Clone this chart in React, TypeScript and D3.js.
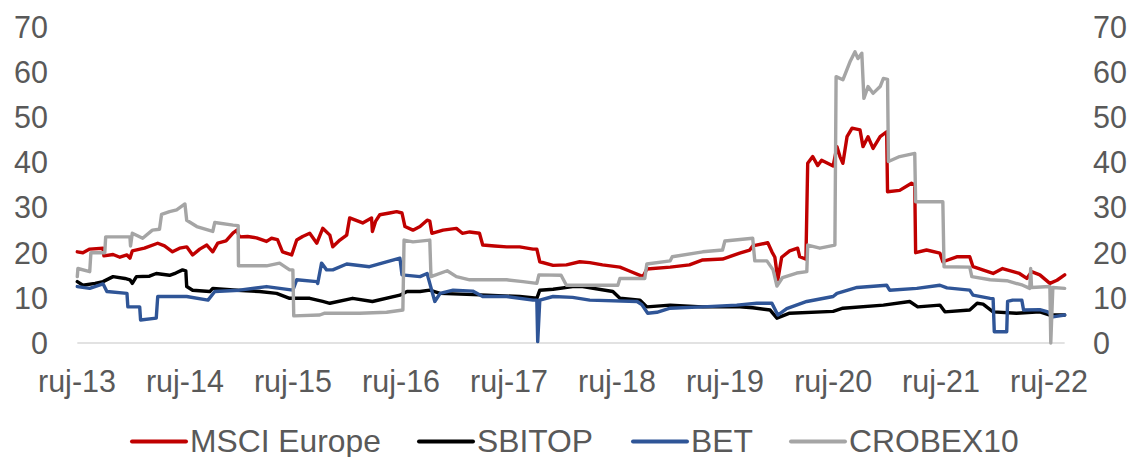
import React from "react";
import * as d3 from "d3";

type Pt = [string, number];

const seriesNames = ["MSCI Europe", "SBITOP", "BET", "CROBEX10"];
const seriesColors = ["#C00000", "#000000", "#2F5597", "#A5A5A5"];

const msciEurope: Pt[] = [
  ["2013-09-02", 20.2], ["2013-09-21", 20.0], ["2013-10-14", 20.8], ["2013-11-28", 21.0],
  ["2013-12-01", 19.3], ["2014-01-01", 19.6], ["2014-01-24", 19.0], ["2014-02-17", 19.5],
  ["2014-02-27", 18.8], ["2014-03-07", 20.4], ["2014-04-17", 21.0], ["2014-06-01", 22.1],
  ["2014-06-24", 21.5], ["2014-07-21", 20.2], ["2014-08-14", 21.0], ["2014-09-07", 21.3],
  ["2014-09-27", 19.5], ["2014-10-21", 20.8], ["2014-11-14", 21.7], ["2014-12-04", 20.2],
  ["2014-12-21", 22.1], ["2015-01-18", 22.6], ["2015-02-11", 24.4], ["2015-02-24", 25.0],
  ["2015-03-04", 23.5], ["2015-04-01", 23.6], ["2015-05-01", 23.3], ["2015-06-04", 22.5],
  ["2015-06-21", 23.2], ["2015-07-11", 22.9], ["2015-07-28", 20.2], ["2015-08-28", 19.5],
  ["2015-09-14", 22.8], ["2015-10-04", 23.6], ["2015-10-28", 24.3], ["2015-11-21", 22.1],
  ["2015-12-11", 25.4], ["2016-01-04", 23.9], ["2016-01-14", 21.3], ["2016-02-07", 22.8],
  ["2016-03-01", 23.9], ["2016-03-11", 27.7], ["2016-04-24", 26.6], ["2016-05-24", 27.7],
  ["2016-05-27", 24.7], ["2016-06-07", 27.0], ["2016-06-21", 28.4], ["2016-07-24", 28.8],
  ["2016-08-17", 29.1], ["2016-09-04", 28.8], ["2016-09-14", 25.8], ["2016-10-11", 25.0],
  ["2016-11-04", 25.8], ["2016-11-28", 27.2], ["2016-12-07", 27.0], ["2016-12-14", 24.3],
  ["2017-01-21", 25.0], ["2017-03-07", 25.4], ["2017-03-27", 24.3], ["2017-04-21", 24.6],
  ["2017-05-24", 24.3], ["2017-06-04", 21.7], ["2017-07-14", 21.5], ["2017-08-24", 21.3],
  ["2017-10-07", 21.3], ["2017-11-21", 20.8], ["2017-12-04", 20.8], ["2017-12-14", 18.0],
  ["2018-01-28", 17.2], ["2018-03-14", 17.3], ["2018-04-28", 18.0], ["2018-06-01", 17.8],
  ["2018-07-14", 17.3], ["2018-09-11", 16.8], ["2018-10-11", 16.0], ["2018-11-28", 14.7],
  ["2018-12-11", 16.4], ["2019-02-28", 16.8], ["2019-05-04", 17.3], ["2019-06-18", 18.4],
  ["2019-08-24", 18.6], ["2019-10-21", 19.9], ["2019-11-24", 20.6], ["2019-12-04", 21.5],
  ["2020-01-24", 22.2], ["2020-02-07", 20.2], ["2020-02-17", 19.0], ["2020-02-27", 14.0],
  ["2020-03-11", 19.0], ["2020-04-07", 20.4], ["2020-05-04", 21.0], ["2020-05-11", 19.1],
  ["2020-06-01", 18.6], ["2020-06-07", 39.8], ["2020-06-24", 41.3], ["2020-07-11", 39.3],
  ["2020-07-24", 40.5], ["2020-09-01", 39.2], ["2020-09-14", 43.5], ["2020-09-24", 41.3],
  ["2020-10-04", 39.8], ["2020-10-18", 45.7], ["2020-11-04", 47.6], ["2020-12-01", 47.2],
  ["2020-12-11", 43.5], ["2020-12-28", 45.7], ["2021-01-14", 43.1], ["2021-02-07", 45.7],
  ["2021-03-01", 46.8], ["2021-03-04", 33.5], ["2021-04-14", 33.8], ["2021-05-24", 35.4],
  ["2021-06-04", 35.0], ["2021-06-07", 20.0], ["2021-07-14", 20.6], ["2021-08-28", 19.9],
  ["2021-09-07", 18.0], ["2021-10-24", 19.1], ["2021-12-07", 19.1], ["2021-12-18", 16.9],
  ["2022-02-24", 15.4], ["2022-03-28", 16.5], ["2022-05-24", 15.4], ["2022-06-18", 14.3],
  ["2022-07-04", 15.8], ["2022-08-01", 15.1], ["2022-09-04", 13.2], ["2022-09-28", 13.9],
  ["2022-10-24", 15.1],
];

const sbitop: Pt[] = [
  ["2013-09-02", 13.6], ["2013-09-21", 12.8], ["2013-11-01", 13.2], ["2013-11-28", 13.6],
  ["2014-01-01", 14.7], ["2014-02-10", 14.3], ["2014-02-27", 14.0], ["2014-03-07", 13.2],
  ["2014-03-21", 14.7], ["2014-05-04", 14.8], ["2014-05-27", 15.4], ["2014-07-11", 15.0],
  ["2014-08-01", 15.5], ["2014-08-24", 16.2], ["2014-09-04", 16.0], ["2014-09-07", 12.5],
  ["2014-09-27", 11.7], ["2014-11-24", 11.4], ["2014-12-04", 12.1], ["2015-02-24", 11.7],
  ["2015-05-11", 11.4], ["2015-07-08", 11.0], ["2015-08-21", 9.9], ["2015-10-28", 9.9],
  ["2015-12-11", 9.2], ["2016-01-04", 8.8], ["2016-03-21", 9.9], ["2016-05-27", 9.2],
  ["2016-08-28", 10.6], ["2016-09-21", 11.4], ["2016-11-04", 11.4], ["2016-12-07", 11.7],
  ["2017-01-11", 11.0], ["2017-06-17", 10.6], ["2017-10-07", 10.3], ["2017-12-04", 9.9],
  ["2017-12-14", 11.7], ["2018-01-28", 11.9], ["2018-04-04", 12.5], ["2018-05-08", 12.5],
  ["2018-08-18", 11.4], ["2018-09-11", 9.9], ["2018-11-18", 9.5], ["2018-12-11", 8.0],
  ["2019-02-28", 8.4], ["2019-06-18", 8.0], ["2019-10-21", 8.0], ["2019-12-04", 7.8],
  ["2020-02-01", 7.3], ["2020-02-24", 5.5], ["2020-04-07", 6.6], ["2020-09-01", 7.0],
  ["2020-10-04", 7.7], ["2021-02-18", 8.4], ["2021-05-18", 9.2], ["2021-06-14", 8.0],
  ["2021-08-28", 8.4], ["2021-09-14", 6.9], ["2021-12-07", 7.3], ["2022-01-01", 8.8],
  ["2022-01-21", 8.6], ["2022-02-24", 6.9], ["2022-05-14", 6.6], ["2022-08-01", 6.9],
  ["2022-09-04", 6.2], ["2022-10-24", 6.2],
];

const bet: Pt[] = [
  ["2013-09-02", 12.5], ["2013-10-14", 12.1], ["2013-11-28", 13.1], ["2013-12-11", 11.4],
  ["2014-02-17", 11.0], ["2014-02-20", 8.0], ["2014-04-01", 8.0], ["2014-04-04", 5.1],
  ["2014-05-27", 5.5], ["2014-06-01", 10.3], ["2014-09-07", 10.3], ["2014-11-18", 9.5],
  ["2014-12-11", 11.4], ["2015-03-04", 11.7], ["2015-06-04", 12.5], ["2015-09-01", 11.7],
  ["2015-09-14", 14.0], ["2015-11-21", 13.6], ["2015-11-24", 13.2], ["2015-12-07", 17.7],
  ["2015-12-24", 16.2], ["2016-01-14", 16.2], ["2016-03-01", 17.5], ["2016-05-17", 16.9],
  ["2016-08-28", 18.8], ["2016-09-04", 15.1], ["2016-11-04", 14.7], ["2016-11-28", 15.4],
  ["2016-12-07", 13.2], ["2016-12-24", 9.2], ["2017-01-11", 11.0], ["2017-02-24", 11.7],
  ["2017-05-01", 11.5], ["2017-06-04", 10.3], ["2017-08-24", 10.3], ["2017-11-21", 9.5],
  ["2017-12-04", 9.5], ["2017-12-07", 0.3], ["2017-12-14", 9.5], ["2018-01-28", 10.3],
  ["2018-04-04", 10.1], ["2018-06-01", 9.5], ["2018-11-08", 9.2], ["2018-11-24", 8.5],
  ["2018-12-14", 6.6], ["2019-01-14", 6.8], ["2019-02-28", 7.7], ["2019-06-18", 8.0],
  ["2019-10-11", 8.4], ["2019-12-18", 8.8], ["2020-02-07", 8.8], ["2020-02-27", 6.2],
  ["2020-03-28", 7.6], ["2020-06-04", 9.2], ["2020-09-01", 10.3], ["2020-09-14", 11.0],
  ["2020-11-21", 12.3], ["2021-03-01", 12.8], ["2021-03-11", 11.7], ["2021-06-11", 12.1],
  ["2021-08-28", 12.8], ["2021-09-21", 12.2], ["2021-12-07", 11.7], ["2021-12-18", 10.6],
  ["2022-02-14", 9.9], ["2022-02-24", 9.8], ["2022-02-28", 2.5], ["2022-04-11", 2.5],
  ["2022-04-14", 9.2], ["2022-05-01", 9.5], ["2022-06-01", 9.5], ["2022-06-07", 7.3],
  ["2022-08-01", 7.4], ["2022-08-28", 6.9], ["2022-09-14", 5.8], ["2022-10-24", 6.2],
];

const crobex10: Pt[] = [
  ["2013-09-02", 14.7], ["2013-09-04", 16.5], ["2013-10-14", 15.8], ["2013-10-18", 20.0],
  ["2013-12-04", 20.0], ["2013-12-07", 23.5], ["2014-02-27", 23.5], ["2014-03-01", 21.5],
  ["2014-03-07", 24.3], ["2014-04-11", 23.2], ["2014-05-14", 25.0], ["2014-06-07", 25.2],
  ["2014-06-14", 28.5], ["2014-07-11", 29.1], ["2014-08-04", 29.5], ["2014-09-01", 30.8],
  ["2014-09-07", 27.2], ["2014-10-11", 25.8], ["2014-12-04", 24.7], ["2014-12-11", 26.7],
  ["2015-02-11", 26.1], ["2015-02-28", 26.0], ["2015-03-01", 17.1], ["2015-06-04", 17.1],
  ["2015-07-18", 17.7], ["2015-08-21", 16.2], ["2015-09-01", 16.2], ["2015-09-04", 6.0],
  ["2015-12-01", 6.2], ["2015-12-18", 6.6], ["2016-04-14", 6.6], ["2016-07-14", 6.8],
  ["2016-09-07", 7.3], ["2016-09-11", 22.8], ["2016-10-11", 22.4], ["2016-12-07", 22.8],
  ["2016-12-11", 14.7], ["2017-02-04", 16.0], ["2017-03-07", 14.7], ["2017-04-21", 14.0],
  ["2017-08-24", 14.0], ["2017-10-18", 13.6], ["2017-12-04", 13.2], ["2017-12-11", 15.1],
  ["2018-02-24", 15.0], ["2018-03-14", 12.8], ["2018-07-14", 12.8], ["2018-09-04", 12.8],
  ["2018-09-11", 14.3], ["2018-12-04", 14.3], ["2018-12-11", 17.5], ["2019-02-28", 18.2],
  ["2019-03-07", 19.1], ["2019-06-18", 20.2], ["2019-08-24", 20.6], ["2019-09-01", 22.6],
  ["2019-12-04", 23.2], ["2019-12-11", 18.2], ["2020-01-21", 18.2], ["2020-02-11", 16.2],
  ["2020-02-24", 12.6], ["2020-03-14", 14.5], ["2020-05-01", 15.5], ["2020-06-04", 15.8],
  ["2020-06-07", 21.7], ["2020-07-18", 21.0], ["2020-09-07", 21.7], ["2020-09-11", 59.0],
  ["2020-10-04", 58.3], ["2020-10-28", 62.3], ["2020-11-14", 64.5], ["2020-11-24", 63.0],
  ["2020-12-07", 64.2], ["2020-12-14", 54.2], ["2020-12-28", 56.8], ["2021-01-14", 55.3],
  ["2021-02-07", 56.8], ["2021-02-18", 58.6], ["2021-03-04", 58.4], ["2021-03-07", 40.2],
  ["2021-04-14", 41.3], ["2021-06-04", 42.0], ["2021-06-07", 31.3], ["2021-09-07", 31.3],
  ["2021-09-11", 16.9], ["2021-12-07", 16.8], ["2021-12-14", 14.7], ["2022-02-14", 14.0],
  ["2022-04-11", 13.8], ["2022-06-04", 12.8], ["2022-06-28", 12.1], ["2022-07-01", 16.5],
  ["2022-07-04", 12.3], ["2022-09-04", 12.5], ["2022-09-07", 0.0], ["2022-09-14", 12.3],
  ["2022-10-24", 12.1],
];

const allSeries: Pt[][] = [msciEurope, sbitop, bet, crobex10];

const yTicks = [0, 10, 20, 30, 40, 50, 60, 70];
const xTickDates = [
  "2013-09-01", "2014-09-01", "2015-09-01", "2016-09-01", "2017-09-01",
  "2018-09-01", "2019-09-01", "2020-09-01", "2021-09-01", "2022-09-01",
];
const xTickLabels = [
  "ruj-13", "ruj-14", "ruj-15", "ruj-16", "ruj-17",
  "ruj-18", "ruj-19", "ruj-20", "ruj-21", "ruj-22",
];

const W = 1135;
const H = 457;
const FONT = "'Liberation Sans', Arial, sans-serif";
const TEXT = "#595959";
const legendX = [132, 419, 633, 791];

export default function App() {
  const parse = d3.timeParse("%Y-%m-%d");
  const x = d3
    .scaleTime()
    .domain([parse("2013-09-01") as Date, parse("2022-09-01") as Date])
    .range([77, 1049]);
  const y = d3.scaleLinear().domain([0, 70]).range([343, 27]);
  const line = d3
    .line<Pt>()
    .x((d) => x(parse(d[0]) as Date))
    .y((d) => y(d[1]));

  const firstX = x(parse(msciEurope[0][0]) as Date);
  const lastX = x(parse(msciEurope[msciEurope.length - 1][0]) as Date);

  return (
    <div style={{ position: "absolute", left: 0, top: 0 }}>
      <svg width={W} height={H} style={{ display: "block", background: "#fff" }}>
        <line x1={firstX} x2={lastX} y1={y(0)} y2={y(0)} stroke="#D9D9D9" strokeWidth={1.5} />
        {yTicks.map((t) => (
          <g key={t} fontFamily={FONT} fontSize={30.5} fill={TEXT}>
            <text x={48} y={y(t) + 10.8} textAnchor="end">{t}</text>
            <text x={1093} y={y(t) + 10.8} textAnchor="start">{t}</text>
          </g>
        ))}
        {xTickDates.map((d, i) => (
          <text
            key={d}
            x={x(parse(d) as Date)}
            y={392}
            textAnchor="middle"
            fontFamily={FONT}
            fontSize={30.5}
            fill={TEXT}
          >
            {xTickLabels[i]}
          </text>
        ))}
        {allSeries.map((s, i) => (
          <path
            key={seriesNames[i]}
            d={line(s) || ""}
            fill="none"
            stroke={seriesColors[i]}
            strokeWidth={3.4}
            strokeLinejoin="round"
            strokeLinecap="round"
          />
        ))}
        {seriesNames.map((n, i) => (
          <g key={n}>
            <line
              x1={legendX[i]}
              x2={legendX[i] + 54}
              y1={441.5}
              y2={441.5}
              stroke={seriesColors[i]}
              strokeWidth={4}
              strokeLinecap="round"
            />
            <text x={legendX[i] + 58} y={451.5} fontFamily={FONT} fontSize={31.8} fill={TEXT}>
              {n}
            </text>
          </g>
        ))}
      </svg>
    </div>
  );
}
